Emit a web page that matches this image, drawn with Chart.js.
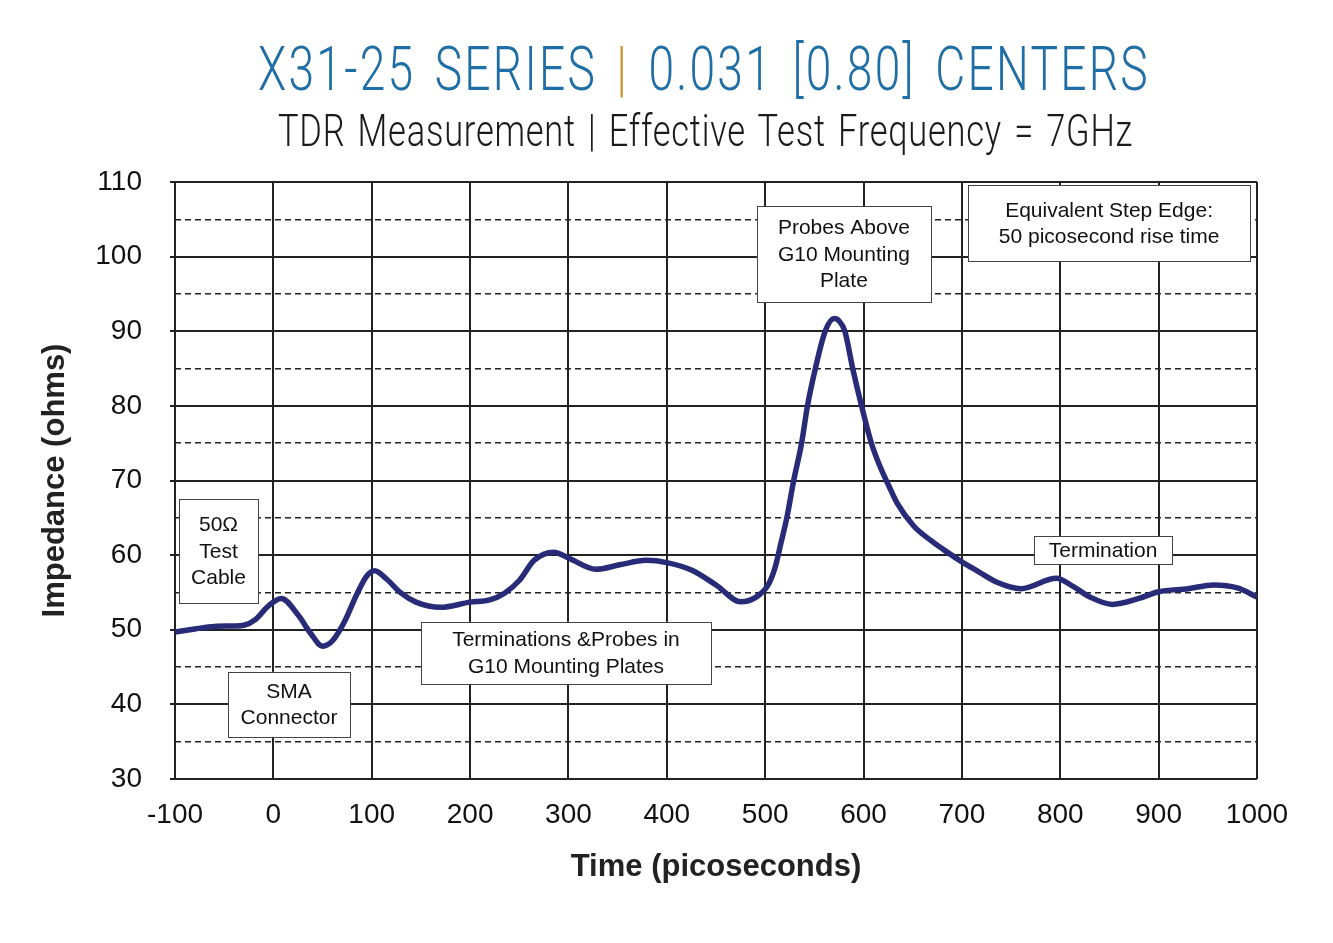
<!DOCTYPE html>
<html>
<head>
<meta charset="utf-8">
<script src="https://cdn.jsdelivr.net/npm/chart.js@4.4.1/dist/chart.umd.min.js"></script>
<style>
  html, body { margin: 0; padding: 0; background: #fff; }
  #wrap { position: relative; width: 1333px; height: 943px; }
  #chart { position: absolute; left: 0; top: 0; }
  .ttl { position: absolute; white-space: nowrap; transform-origin: 0 0; font-family: Roboto, "Liberation Sans", sans-serif; }
  #t1 { top: 32px; font-size: 62px; font-weight: 300; color: #1f6ea6; letter-spacing: 3px; word-spacing: 8px; }
  #t1 .bar { color: #c99a2e; }
  #t2 { top: 104px; font-size: 45px; font-weight: 300; color: #1a1a1a; letter-spacing: 1px; word-spacing: 4px; }
</style>
</head>
<body>
<div id="wrap">
  <canvas id="chart" width="1333" height="943"></canvas>
  <div id="t1" class="ttl">X31-25 SERIES <span class="bar">|</span> 0.031 [0.80] CENTERS</div>
  <div id="t2" class="ttl">TDR Measurement | Effective Test Frequency = 7GHz</div>
</div>
<script>
/* ---------- DATA ---------- */
let timePs = [-100, -80, -60, -40, -30, -18, -5, 8, 25, 38, 50, 60, 72, 85, 95, 103, 115, 130, 145, 170,
    200, 220, 235, 250, 265, 285, 301, 328, 352, 379, 400, 425, 450, 475, 490, 503, 510, 516, 522, 529,
    537, 543, 551, 561, 570, 575, 581, 589, 598, 608, 617, 626, 634, 651, 668, 685, 700, 718, 735, 760,
    796, 813, 830, 853, 880, 900, 930, 956, 980, 1000];
let impedance = [49.7, 50.1, 50.45, 50.5, 50.6, 51.4, 53.2, 54.2, 52.0, 49.5, 47.8, 48.5, 51.0, 54.8, 57.2, 57.9, 56.8, 54.9, 53.7, 53.0,
    53.7, 54.0, 54.9, 56.6, 59.3, 60.4, 59.55, 58.1, 58.7, 59.3, 59.0, 58.0, 56.0, 53.75, 54.3, 56.0, 58.3, 61.6, 65, 70,
    75, 80, 85, 90, 91.7, 91.4, 90, 85, 80, 75, 71.8, 69.2, 67, 63.9, 62, 60.4, 59.1, 57.7, 56.4, 55.5,
    56.9, 55.8, 54.4, 53.4, 54.2, 55.1, 55.5, 56.0, 55.6, 54.4];

let minorY = [35, 45, 55, 65, 75, 85, 95, 105];

let notes = [
    { lines: ["50\u03A9", "Test", "Cable"], t: -55.8, v: 60.55, w: 79, h: 104 },
    { lines: ["SMA", "Connector"], t: 15.9, v: 40.0, w: 122, h: 65 },
    { lines: ["Terminations &Probes in", "G10 Mounting Plates"], t: 297.5, v: 46.9, w: 290, h: 62 },
    { lines: ["Probes Above", "G10 Mounting", "Plate"], t: 580, v: 100.35, w: 174, h: 96 },
    { lines: ["Equivalent Step Edge:", "50 picosecond rise time"], t: 849.6, v: 104.5, w: 282, h: 76 },
    { lines: ["Termination"], t: 843.5, v: 60.7, w: 138, h: 28 }
];

/* ---------- TITLES ---------- */
function fitTitle(id, centerX, targetW) {
    let el = document.getElementById(id);
    let w = el.offsetWidth;
    let s = targetW / w;
    el.style.left = (centerX - targetW / 2) + "px";
    el.style.transform = "scaleX(" + s + ")";
}
fitTitle("t1", 704, 892);
fitTitle("t2", 705, 855);

/* ---------- NOTE BOXES ---------- */
const notesPlugin = {
    id: "notes",
    afterDraw(chart) {
        let ctx = chart.ctx;
        let xs = chart.scales.x, ys = chart.scales.y;
        ctx.save();
        ctx.font = "21px 'Liberation Sans', Arial, sans-serif";
        ctx.textAlign = "center";
        ctx.textBaseline = "middle";
        notes.forEach(n => {
            let cx = xs.getPixelForValue(n.t);
            let cy = ys.getPixelForValue(n.v);
            ctx.fillStyle = "#fff";
            ctx.fillRect(cx - n.w / 2, cy - n.h / 2, n.w, n.h);
            ctx.strokeStyle = "#444";
            ctx.lineWidth = 1;
            ctx.strokeRect(Math.round(cx - n.w / 2) + 0.5, Math.round(cy - n.h / 2) + 0.5, n.w, n.h);
            ctx.fillStyle = "#111";
            let lh = 26.5;
            let y0 = cy - (n.lines.length - 1) * lh / 2;
            n.lines.forEach((s, i) => ctx.fillText(s, cx, y0 + i * lh + 1));
        });
        ctx.restore();
    }
};

/* ---------- CHART ---------- */
let ctx = document.getElementById("chart").getContext("2d");

new Chart(ctx, {
    type: "line",
    data: {
        datasets: [{
            data: timePs.map((t, i) => ({ x: t, y: impedance[i] })),
            borderColor: "#282b78",
            borderWidth: 5.5,
            pointRadius: 0,
            cubicInterpolationMode: "monotone",
            fill: false
        }]
    },
    options: {
        responsive: false,
        animation: false,
        layout: { padding: { top: 182, right: 76, left: 0, bottom: 0 } },
        plugins: { legend: { display: false }, tooltip: { enabled: false } },
        scales: {
            x: {
                type: "linear",
                min: -100,
                max: 1000,
                ticks: { stepSize: 100, color: "#111", padding: 19,
                    font: { family: "'Liberation Sans', Arial", size: 28 },
                    callback: v => String(v) },
                grid: { color: "#222", lineWidth: 2, drawTicks: false },
                border: { display: false },
                title: { display: true, text: "Time (picoseconds)", color: "#222",
                    font: { family: "'Liberation Sans', Arial", size: 31, weight: "bold" },
                    padding: { top: 10, bottom: 57 } },
                afterFit(scale) { scale.height = 164; }
            },
            y: {
                min: 30,
                max: 110,
                ticks: { stepSize: 10, color: "#111", padding: 28,
                    font: { family: "'Liberation Sans', Arial", size: 28 } },
                grid: { color: "#222", lineWidth: 2, drawTicks: true, tickLength: 5 },
                border: { display: false },
                title: { display: true, text: "Impedance (ohms)", color: "#222",
                    font: { family: "'Liberation Sans', Arial", size: 31, weight: "bold" },
                    padding: { top: 37, bottom: 0 } },
                afterFit(scale) { scale.width = 175; }
            },
            y2: {
                position: "left",
                min: 30,
                max: 110,
                afterBuildTicks(axis) { axis.ticks = minorY.map(v => ({ value: v })); },
                ticks: { display: false },
                grid: { color: "#222", lineWidth: 1.5, drawTicks: false },
                border: { display: false, dash: [6, 4] },
                afterFit(scale) { scale.width = 0; }
            }
        }
    },
    plugins: [notesPlugin]
});
</script>
</body>
</html>
